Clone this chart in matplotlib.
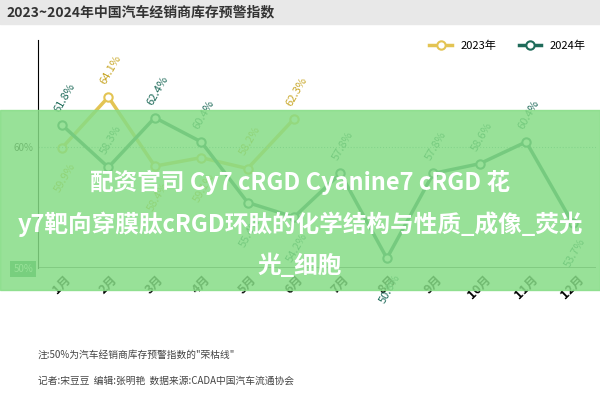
import matplotlib.pyplot as plt
from matplotlib.patches import Rectangle

plt.rcParams['font.family'] = 'Noto Sans CJK SC'

months = ['1月', '2月', '3月', '4月', '5月', '6月', '7月', '8月', '9月', '10月', '11月', '12月']
v2023 = [59.9, 64.1, 58.4, 59.1, 58.2, 62.3]
v2024 = [61.8, 58.3, 62.4, 60.4, 55.4, 54.2, 57.8, 50.8, 57.8, 58.6, 60.4, 53.7]

c23 = '#e3c453'
c24 = '#1f6b5a'

fig = plt.figure(figsize=(6, 4), dpi=100)
fig.patch.set_facecolor('white')
ax = fig.add_axes([0.063, 0.33, 0.93, 0.57])
x = list(range(len(months)))
ax.plot(x[:len(v2023)], v2023, color=c23, lw=2.5, marker='o', ms=6, mfc='white', mec=c23, mew=1.5, label='2023年', zorder=2)
ax.plot(x, v2024, color=c24, lw=2.5, marker='o', ms=6, mfc='white', mec=c24, mew=1.5, label='2024年', zorder=3)
for xi, v in zip(x, v2024):
    off = 8 if v >= 57 or xi == 0 else -10
    ax.annotate(f'{v}%', (xi, v), xytext=(2, off), textcoords='offset points',
                rotation=60, fontsize=8, color=c24, ha='center', va='bottom' if off > 0 else 'top')
for xi, v in zip(x, v2023):
    off = 8 if v > 60 or xi == 4 else -10
    ax.annotate(f'{v}%', (xi, v), xytext=(2, off), textcoords='offset points',
                rotation=60, fontsize=8, color='#c9a82a', ha='center', va='bottom' if off > 0 else 'top')
ax.axhline(60, color='#7aa', lw=0.8, ls=':')
ax.axhline(50, color='#555', lw=1.2)
ax.set_ylim(50, 68.8)
ax.set_xlim(-0.52, 11.5)
ax.set_yticks([50, 60])
ax.set_yticklabels(['50%', '60%'], fontsize=7)
ax.get_yticklabels()[0].set_bbox(dict(facecolor='#2e8b57', edgecolor='none', pad=2))
ax.get_yticklabels()[0].set_color('white')
ax.set_xticks(x)
ax.set_xticklabels(months, rotation=45, fontsize=9, fontweight='bold')
for s in ['top', 'right', 'bottom']:
    ax.spines[s].set_visible(False)
ax.tick_params(length=0)
ax.legend(loc='upper right', ncol=2, frameon=False, fontsize=8, bbox_to_anchor=(1.0, 1.04))

fig.add_artist(Rectangle((0, 0.94), 1, 0.06, transform=fig.transFigure, color='#e8e8e8'))
fig.text(0.01, 0.97, '2023~2024年中国汽车经销商库存预警指数', fontsize=10, fontweight='bold', va='center', color='#333')
fig.text(0.063, 0.105, '注:50%为汽车经销商库存预警指数的"荣枯线"', fontsize=7, color='#444')
fig.text(0.063, 0.04, '记者:宋豆豆  编辑:张明艳  数据来源:CADA中国汽车流通协会', fontsize=7, color='#444')

# green watermark banner
fig.add_artist(Rectangle((0, 0.275), 1, 0.45, transform=fig.transFigure, color='#86dc86', alpha=0.85, zorder=5))
fig.text(0.5, 0.545, '配资官司 Cy7 cRGD Cyanine7 cRGD 花', fontsize=17, fontweight='bold', color='white', ha='center', va='center', zorder=6)
fig.text(0.5, 0.44, 'y7靶向穿膜肽cRGD环肽的化学结构与性质_成像_荧光', fontsize=17, fontweight='bold', color='white', ha='center', va='center', zorder=6)
fig.text(0.5, 0.335, '光_细胞', fontsize=17, fontweight='bold', color='white', ha='center', va='center', zorder=6)

fig.savefig('out.png', dpi=100)
